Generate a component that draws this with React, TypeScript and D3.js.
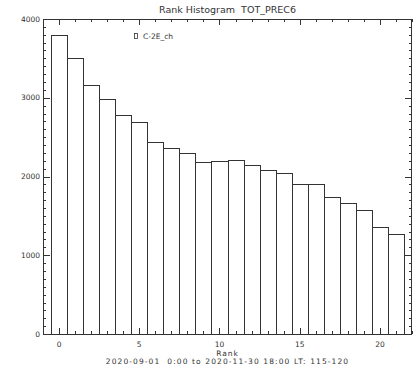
import React, { useEffect, useRef } from "react";
import * as d3 from "d3";

// rank histogram counts, rank 0..21
const ranks = d3.range(0, 22);
const counts = [
  3800, 3500, 3160, 2990, 2780, 2690, 2440, 2360, 2300, 2185, 2195, 2210,
  2145, 2085, 2045, 1905, 1900, 1745, 1660, 1580, 1365, 1275,
];
const yTicks = [0, 1000, 2000, 3000, 4000];
const xTicks = [0, 5, 10, 15, 20];
const title = "Rank Histogram  TOT_PREC6";
const seriesName = "C-2E_ch";
const xLabel = "Rank";
const subLabel = "2020-09-01  0:00 to 2020-11-30 18:00 LT: 115-120";

// keep double spaces visible in svg text
const keepSpaces = (s: string) => s.replace(/ {2}/g, "\u00a0 ");

const App: React.FC = () => {
  const ref = useRef<SVGSVGElement | null>(null);

  useEffect(() => {
    const svg = d3.select(ref.current);
    svg.selectAll("*").remove();

    const W = 413;
    const H = 368;
    const left = 43;
    const right = 412;
    const top = 19;
    const bottom = 334;
    const ink = "#333";
    const font = "'DejaVu Sans', sans-serif";

    const x = d3.scaleLinear().domain([-1, 22]).range([left, right]);
    const y = d3.scaleLinear().domain([0, 4000]).range([bottom, top]);

    svg.attr("width", W).attr("height", H);
    svg.append("rect").attr("width", W).attr("height", H).attr("fill", "#fff");

    // bars
    svg
      .append("g")
      .selectAll("rect")
      .data(ranks)
      .join("rect")
      .attr("x", (d) => Math.round(x(d - 0.5)) + 0.5)
      .attr("y", (d) => Math.round(y(counts[d])) + 0.5)
      .attr("width", (d) => Math.round(x(d + 0.5)) - Math.round(x(d - 0.5)))
      .attr("height", (d) => Math.round(y(0)) - Math.round(y(counts[d])))
      .attr("fill", "#fff")
      .attr("stroke", ink)
      .attr("stroke-width", 1);

    // frame
    svg
      .append("rect")
      .attr("x", left + 0.5)
      .attr("y", top + 0.5)
      .attr("width", right - left - 1)
      .attr("height", bottom - top)
      .attr("fill", "none")
      .attr("stroke", ink);

    const ticks = svg.append("g").attr("stroke", ink).attr("stroke-width", 1);

    // x ticks (bottom up, top down)
    const xMinor = d3.range(-1, 23);
    xMinor.forEach((v) => {
      const len = v % 5 === 0 ? 6 : 3;
      const px = Math.round(x(v)) + 0.5;
      ticks.append("line").attr("x1", px).attr("x2", px).attr("y1", bottom).attr("y2", bottom - len);
      ticks.append("line").attr("x1", px).attr("x2", px).attr("y1", top).attr("y2", top + len);
    });

    // y ticks (left to right, right to left)
    const yMinor = d3.range(0, 4001, 100);
    yMinor.forEach((v) => {
      const len = v % 1000 === 0 ? 7 : 3;
      const py = Math.round(y(v)) + 0.5;
      ticks.append("line").attr("x1", left).attr("x2", left + len).attr("y1", py).attr("y2", py);
      ticks.append("line").attr("x1", right).attr("x2", right - len).attr("y1", py).attr("y2", py);
    });

    const text = svg.append("g").attr("font-family", font).attr("fill", ink);

    text
      .selectAll("text.yt")
      .data(yTicks)
      .join("text")
      .attr("x", left - 3)
      .attr("y", (d) => y(d) + 2.7)
      .attr("text-anchor", "end")
      .attr("font-size", 7.5)
      .text((d) => d);

    text
      .selectAll("text.xt")
      .data(xTicks)
      .join("text")
      .attr("x", (d) => x(d))
      .attr("y", bottom + 13)
      .attr("text-anchor", "middle")
      .attr("font-size", 7.5)
      .text((d) => d);

    const cx = (left + right) / 2;
    text
      .append("text")
      .attr("x", cx)
      .attr("y", 13)
      .attr("text-anchor", "middle")
      .attr("font-size", 9.5)
      .text(keepSpaces(title));

    text
      .append("text")
      .attr("x", cx)
      .attr("y", 355.5)
      .attr("text-anchor", "middle")
      .attr("font-size", 7.5)
      .attr("letter-spacing", 1)
      .text(xLabel);

    text
      .append("text")
      .attr("x", cx)
      .attr("y", 364)
      .attr("text-anchor", "middle")
      .attr("font-size", 7.5)
      .attr("letter-spacing", 1.1)
      .text(keepSpaces(subLabel));

    // legend
    svg
      .append("rect")
      .attr("x", 134.5)
      .attr("y", 33.5)
      .attr("width", 3)
      .attr("height", 5)
      .attr("fill", "none")
      .attr("stroke", ink)
      .attr("stroke-width", 0.8);
    text
      .append("text")
      .attr("x", 143)
      .attr("y", 39)
      .attr("font-size", 7.5)
      .text(seriesName);
  }, []);

  return (
    <svg
      ref={ref}
      style={{ position: "absolute", left: 0, top: 0, display: "block" }}
    />
  );
};

export default App;
